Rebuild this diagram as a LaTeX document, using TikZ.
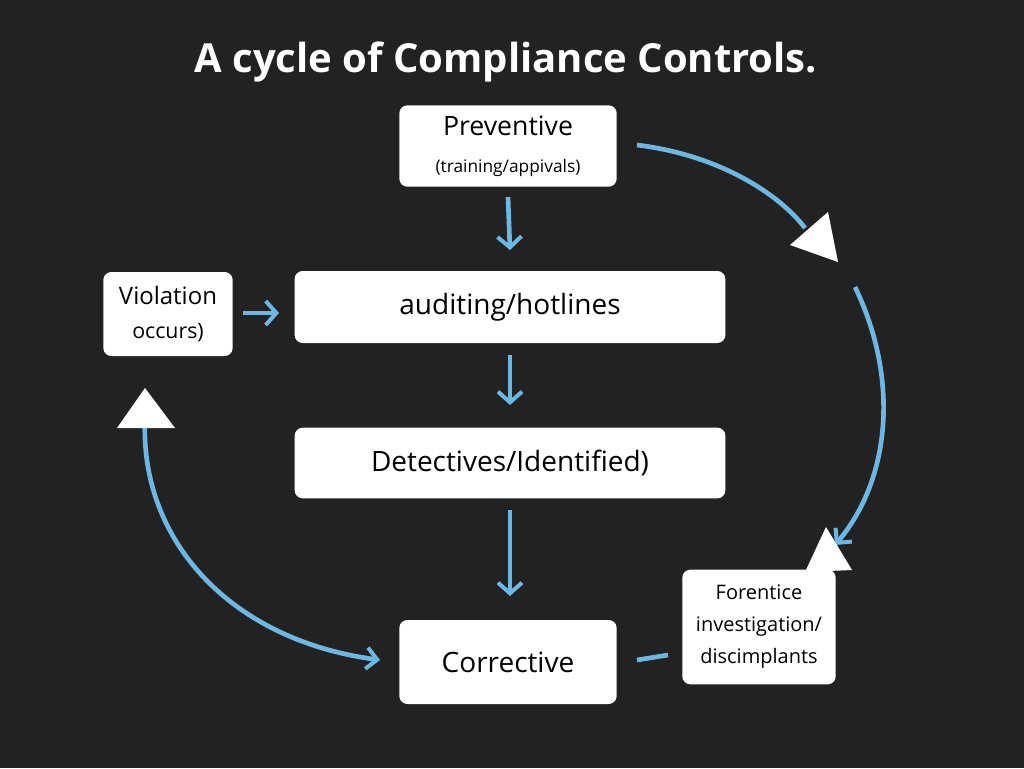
\documentclass[tikz,border=0pt]{standalone}
\usepackage{fontspec}
\setmainfont{Open Sans}
\usetikzlibrary{arrows.meta}
\definecolor{bg}{HTML}{222222}
\definecolor{ab}{HTML}{6CB8E2}
\begin{document}
\begin{tikzpicture}[x=0.75pt,y=-0.75pt,
 box/.style={draw=none,fill=white,rounded corners=6pt,align=center,text=black,inner sep=0pt},
 flow/.style={draw=ab,line width=3.5pt,-{Straight Barb[length=8pt,width=18pt,line width=3pt]}},
 arc/.style={draw=ab,line width=3.5pt},
 head/.style={fill=white,draw=none}]
\fill[bg] (0,0) rectangle (1024,768);
\useasboundingbox (0,0) rectangle (1024,768);
\node[text=white,font=\bfseries\fontsize{30}{34}\selectfont] (title) at (506,62) {A cycle of Compliance Controls.};
\node[box,minimum width=163pt,minimum height=61pt,font=\fontsize{13}{24}\selectfont] (prev) at (508,146) {{\fontsize{20}{24}\selectfont Preventive}\\[4pt](training/appivals)};
\node[box,minimum width=97pt,minimum height=63pt,font=\fontsize{16}{26}\selectfont] (viol) at (168,314) {{\fontsize{18}{22}\selectfont Violation}\\occurs)};
\node[box,minimum width=323pt,minimum height=54pt,font=\fontsize{21}{24}\selectfont] (aud) at (510,307) {auditing/hotlines};
\node[box,minimum width=323pt,minimum height=53pt,font=\fontsize{21}{24}\selectfont] (det) at (510,463) {Detectives/Identified)};
\node[box,minimum width=163pt,minimum height=63pt,font=\fontsize{21}{24}\selectfont] (cor) at (508,662) {Corrective};
\node[box,minimum width=115pt,minimum height=86pt,font=\fontsize{15}{24}\selectfont] (for) at (759,627) {Forentice\\investigation/\\discimplants};
\coordinate (a1) at (510,250); \coordinate (a2) at (510,405); \coordinate (a3) at (510,596); \coordinate (a4) at (279,313);
\draw[flow] (prev.south |- 0,197) -- (a1);
\draw[flow] (aud.south |- 0,355) -- (a2);
\draw[flow] (det.south |- 0,510) -- (a3);
\draw[flow] (viol.east |- 0,313) ++(10,0) -- (a4);
\draw[arc] (prev.east |- 0,145) ++(20,0) .. controls (720,155) and (780,195) .. (805,228);
\fill[head] (790,245) -- (838,262) -- (828,212) -- cycle;
\draw[arc,-{Straight Barb[length=8pt,width=16pt,line width=3pt]}] (855,287) .. controls (900,380) and (890,480) .. (835,545);
\fill[head] (826,527) -- (805,572) -- (852,570) -- cycle;
\draw[arc,-{Straight Barb[length=8pt,width=16pt,line width=3pt]}] (145,420) .. controls (140,540) and (230,640) .. (380,660);
\fill[head] (117,428) -- (175,428) -- (145,388) -- cycle;
\draw[arc] (cor.east |- 0,662) ++(20,-2) -- (668,655);
\end{tikzpicture}
\end{document}
